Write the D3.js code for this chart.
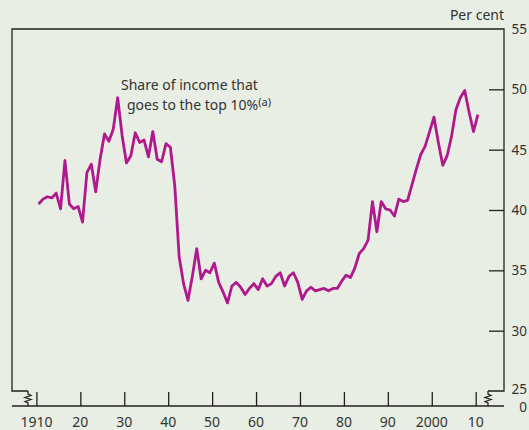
<!DOCTYPE html>
<html>
<head>
<meta charset="utf-8">
<script src="https://cdn.jsdelivr.net/npm/d3@7"></script>
<style>
  body { margin: 0; background: #e8eee3; }
  svg { display: block; font-family: "Noto Sans", sans-serif; }
  .frame { fill: none; stroke: #231f20; stroke-width: 1.3; }
  .lbl { fill: #333; font-size: 14px; }
  .ylbl { fill: #333; font-size: 13.5px; }
</style>
</head>
<body>
<div id="chart"></div>
<script>
// Share of income going to the top 10%, per cent, one value per year
var years = [
  1910, 1911, 1912, 1913, 1914, 1915, 1916, 1917, 1918, 1919,
  1920, 1921, 1922, 1923, 1924, 1925, 1926, 1927, 1928, 1929,
  1930, 1931, 1932, 1933, 1934, 1935, 1936, 1937, 1938, 1939,
  1940, 1941, 1942, 1943, 1944, 1945, 1946, 1947, 1948, 1949,
  1950, 1951, 1952, 1953, 1954, 1955, 1956, 1957, 1958, 1959,
  1960, 1961, 1962, 1963, 1964, 1965, 1966, 1967, 1968, 1969,
  1970, 1971, 1972, 1973, 1974, 1975, 1976, 1977, 1978, 1979,
  1980, 1981, 1982, 1983, 1984, 1985, 1986, 1987, 1988, 1989,
  1990, 1991, 1992, 1993, 1994, 1995, 1996, 1997, 1998, 1999,
  2000, 2001, 2002, 2003, 2004, 2005, 2006, 2007, 2008, 2009,
  2010
];
var topShare = [
  40.5, 40.9, 41.1, 41.0, 41.4, 40.1, 44.1, 40.5, 40.1, 40.3,
  39.0, 43.1, 43.8, 41.5, 44.2, 46.3, 45.7, 46.7, 49.3, 46.2,
  43.9, 44.5, 46.4, 45.6, 45.8, 44.4, 46.5, 44.2, 44.0, 45.5,
  45.2, 42.0, 36.1, 33.9, 32.5, 34.5, 36.8, 34.3, 35.0, 34.8,
  35.6, 34.0, 33.2, 32.3, 33.7, 34.0, 33.6, 33.0, 33.5, 33.9,
  33.4, 34.3, 33.7, 33.9, 34.5, 34.8, 33.7, 34.5, 34.8, 34.0,
  32.6, 33.3, 33.6, 33.3, 33.4, 33.5, 33.3, 33.5, 33.5, 34.1,
  34.6, 34.4, 35.2, 36.4, 36.8, 37.5, 40.7, 38.2, 40.7, 40.1,
  40.0, 39.5, 40.9, 40.7, 40.8, 42.1, 43.4, 44.6, 45.3, 46.5,
  47.7, 45.6, 43.7, 44.5, 46.1, 48.3, 49.3, 49.9, 48.1, 46.5,
  47.9
];

var xTicks = [1910, 1920, 1930, 1940, 1950, 1960, 1970, 1980, 1990, 2000, 2010];
var xTickLabels = ["1910", "20", "30", "40", "50", "60", "70", "80", "90", "2000", "10"];
var yTicks = [30, 35, 40, 45, 50];
var yLabels = [25, 30, 35, 40, 45, 50, 55];

var W = 529, H = 430;
var frameL = 12, frameR = 504, frameT = 29, stepY = 391, axisY = 406;
var pointOffset = 0.5; // values sit mid-year

var x = d3.scaleLinear().domain([1910, 2010]).range([36.4, 475.7]);
var y = d3.scaleLinear().domain([25, 55]).range([stepY, frameT]);

var svg = d3.select("#chart").append("svg")
    .attr("width", W).attr("height", H);

svg.append("rect").attr("width", W).attr("height", H).attr("fill", "#e8eee3");

// broken-axis squiggle, drawn around an x position
function zig(cx) {
    return "M" + cx + "," + stepY + " L" + cx + "," + (stepY + 3) +
        " L" + (cx + 3) + "," + (stepY + 4.5) +
        " L" + (cx - 3) + "," + (stepY + 6.5) +
        " L" + (cx + 3) + "," + (stepY + 8.5) +
        " L" + (cx - 3) + "," + (stepY + 10.5) +
        " L" + cx + "," + (stepY + 12) + " L" + cx + "," + axisY;
}

var zl = 28, zr = 488;
svg.append("path").attr("class", "frame")
    .attr("d", "M" + zl + "," + stepY + " L" + frameL + "," + stepY +
          " L" + frameL + "," + frameT + " L" + frameR + "," + frameT +
          " L" + frameR + "," + stepY + " L" + zr + "," + stepY);
svg.append("path").attr("class", "frame").attr("d", zig(zl));
svg.append("path").attr("class", "frame").attr("d", zig(zr));
svg.append("line").attr("class", "frame")
    .attr("x1", frameL).attr("x2", frameR).attr("y1", axisY).attr("y2", axisY);

// x ticks (upward from axis)
var xg = svg.append("g").attr("transform", "translate(0," + axisY + ")")
    .call(d3.axisTop(x).tickValues(xTicks).tickSize(14).tickFormat(""));
xg.select(".domain").remove();
xg.selectAll(".tick line").attr("stroke", "#231f20").attr("stroke-width", 1.3);

svg.selectAll(".xlab").data(xTicks).enter().append("text")
    .attr("class", "lbl")
    .attr("x", function(d) { return x(d); })
    .attr("y", 427)
    .attr("text-anchor", "middle")
    .text(function(d, i) { return xTickLabels[i]; });

// y ticks (inward from right frame)
var yg = svg.append("g").attr("transform", "translate(" + frameR + ",0)")
    .call(d3.axisLeft(y).tickValues(yTicks).tickSize(15).tickFormat(""));
yg.select(".domain").remove();
yg.selectAll(".tick line").attr("stroke", "#231f20").attr("stroke-width", 1.3);

svg.selectAll(".ylab").data(yLabels).enter().append("text")
    .attr("class", "ylbl")
    .attr("x", 527)
    .attr("y", function(d) { return d === 25 ? y(d) - 2 : y(d); })
    .attr("dy", "0.36em")
    .attr("text-anchor", "end")
    .text(function(d) { return d; });

svg.append("text").attr("class", "ylbl")
    .attr("x", 527).attr("y", axisY + 1.5).attr("dy", "0.36em")
    .attr("text-anchor", "end").text("0");

svg.append("text").attr("class", "lbl")
    .attr("x", frameR).attr("y", 20).attr("text-anchor", "end").text("Per cent");

// the series
var line = d3.line()
    .x(function(d, i) { return x(years[i] + pointOffset); })
    .y(function(d) { return y(d); });

svg.append("path").datum(topShare)
    .attr("d", line)
    .attr("fill", "none")
    .attr("stroke", "#b0198e")
    .attr("stroke-width", 2.8)
    .attr("stroke-linejoin", "round");

// annotation
svg.append("text").attr("class", "lbl")
    .attr("x", 121).attr("y", 90).text("Share of income that");
var t2 = svg.append("text").attr("class", "lbl")
    .attr("x", 127).attr("y", 110);
t2.append("tspan").text("goes to the top 10%");
t2.append("tspan").attr("font-size", "11px").attr("dy", -4).text("(a)");
</script>
</body>
</html>
